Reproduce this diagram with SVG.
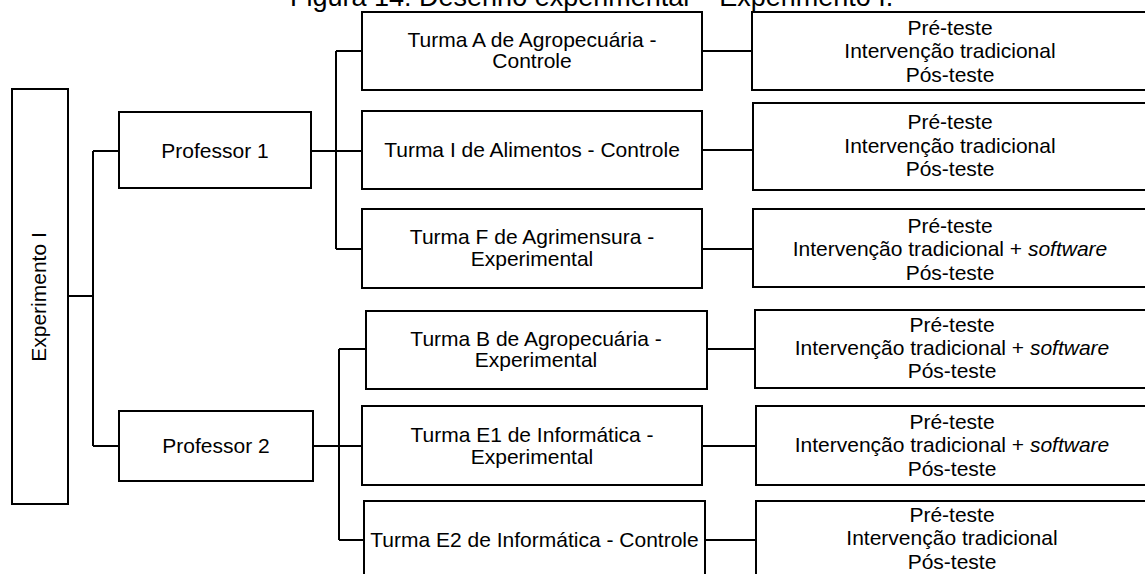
<svg xmlns="http://www.w3.org/2000/svg" width="1145" height="574" viewBox="0 0 1145 574">
<style>
.box{fill:#fff;stroke:#000;stroke-width:2}
.ln{fill:none;stroke:#000;stroke-width:2}
text{font-family:"Liberation Sans",Arial,sans-serif;font-size:21px;fill:#000}
.c{text-anchor:middle}
</style>
<rect width="1145" height="574" fill="#fff"/>
<text id="title" x="290" y="6" font-size="27" style="font-size:27px">Figura 14: Desenho experimental – Experimento I.</text>
<g id="connectors">
<path class="ln" d="M68 296H93M93 151V446M93 151H119M93 446H119"/>
<path class="ln" d="M311 151H361M336 51V249M336 51H362M336 249H362"/>
<path class="ln" d="M313 446H362M339 349V540M339 349H366M339 540H364"/>
<path class="ln" d="M702 51H752M702 150H753M702 249H753M707 349H755M702 446H756M705 540H756"/>
</g>
<g id="exp"><rect class="box" x="12" y="89" width="56" height="415"/><text class="c" transform="translate(46 297) rotate(-90)">Experimento I</text></g>
<g id="prof1"><rect class="box" x="119" y="112" width="192" height="76"/><text class="c" x="215" y="158">Professor 1</text></g>
<g id="prof2"><rect class="box" x="119" y="411" width="194" height="70"/><text class="c" x="216" y="453">Professor 2</text></g>
<g id="turmaA"><rect class="box" x="362" y="12" width="340" height="78"/><text class="c" x="532" y="47">Turma A de Agropecuária -</text><text class="c" x="532" y="68">Controle</text></g>
<g id="turmaI"><rect class="box" x="362" y="111" width="340" height="78"/><text class="c" x="532" y="157">Turma I de Alimentos - Controle</text></g>
<g id="turmaF"><rect class="box" x="362" y="209" width="340" height="79"/><text class="c" x="532" y="244">Turma F de Agrimensura -</text><text class="c" x="532" y="266">Experimental</text></g>
<g id="turmaB"><rect class="box" x="366" y="311" width="341" height="78"/><text class="c" x="536" y="346">Turma B de Agropecuária -</text><text class="c" x="536" y="367">Experimental</text></g>
<g id="turmaE1"><rect class="box" x="362" y="406" width="340" height="79"/><text class="c" x="532" y="442">Turma E1 de Informática -</text><text class="c" x="532" y="464">Experimental</text></g>
<g id="turmaE2"><rect class="box" x="364" y="501" width="341" height="90"/><text class="c" x="534.5" y="547">Turma E2 de Informática - Controle</text></g>
<g id="r1"><rect class="box" x="752" y="12" width="400" height="78"/><text class="c" x="950" y="35">Pré-teste</text><text class="c" x="950" y="58">Intervenção tradicional</text><text class="c" x="950" y="82">Pós-teste</text></g>
<g id="r2"><rect class="box" x="753" y="103" width="400" height="87"/><text class="c" x="950" y="129">Pré-teste</text><text class="c" x="950" y="153">Intervenção tradicional</text><text class="c" x="950" y="176">Pós-teste</text></g>
<g id="r3"><rect class="box" x="753" y="209" width="400" height="78"/><text class="c" x="950" y="233">Pré-teste</text><text class="c" x="950" y="256">Intervenção tradicional + <tspan font-style="italic">software</tspan></text><text class="c" x="950" y="280">Pós-teste</text></g>
<g id="r4"><rect class="box" x="755" y="310" width="400" height="78"/><text class="c" x="952" y="332">Pré-teste</text><text class="c" x="952" y="355">Intervenção tradicional + <tspan font-style="italic">software</tspan></text><text class="c" x="952" y="378">Pós-teste</text></g>
<g id="r5"><rect class="box" x="756" y="406" width="400" height="79"/><text class="c" x="952" y="429">Pré-teste</text><text class="c" x="952" y="452">Intervenção tradicional + <tspan font-style="italic">software</tspan></text><text class="c" x="952" y="476">Pós-teste</text></g>
<g id="r6"><rect class="box" x="756" y="501" width="400" height="90"/><text class="c" x="952" y="522">Pré-teste</text><text class="c" x="952" y="545">Intervenção tradicional</text><text class="c" x="952" y="569">Pós-teste</text></g>
</svg>
